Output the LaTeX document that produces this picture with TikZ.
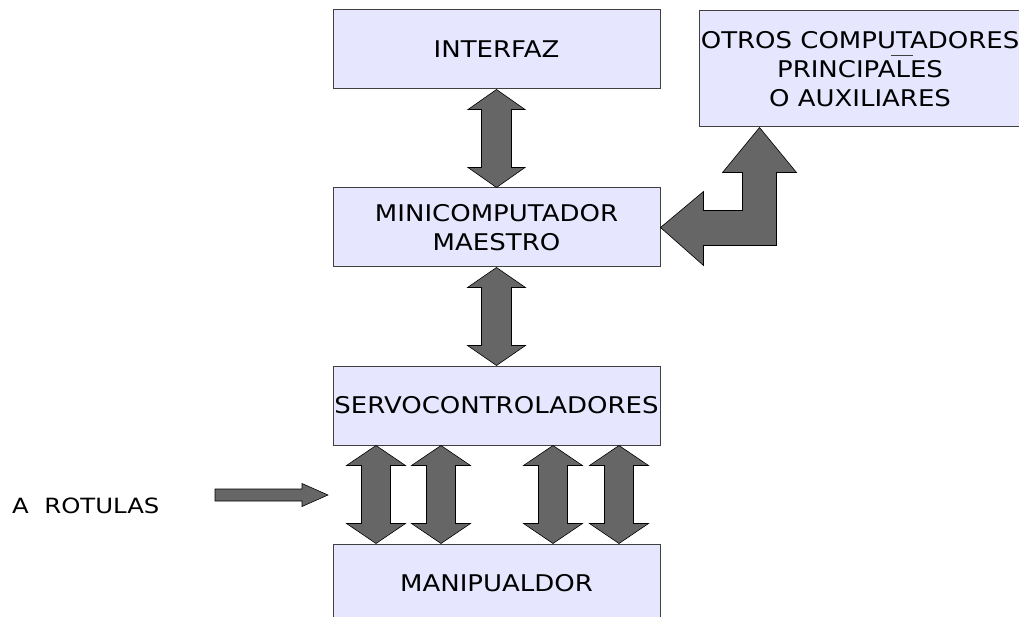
\documentclass[tikz,border=0pt]{standalone}
\usepackage{fontspec}
\setmainfont{DejaVu Sans}
\newfontfamily\boxfont{DejaVu Sans}[FakeStretch=1.13]
\newfontfamily\labelfont{DejaVu Sans}[FakeStretch=1.16]
\usetikzlibrary{calc}

\definecolor{boxfill}{HTML}{E6E6FF}
\definecolor{boxline}{HTML}{404040}
\definecolor{arrowfill}{HTML}{666666}

\tikzset{
  box/.style={draw=boxline, line width=1pt, fill=boxfill, inner sep=0pt,
    minimum width=327pt, minimum height=79pt, align=center,
    font=\boxfont\fontsize{23}{29}\selectfont},
  blockarrow/.style={draw=black, line width=0.6pt, fill=arrowfill, line join=miter},
  label/.style={inner sep=0pt, font=\labelfont\fontsize{21}{25}\selectfont}
}

% vertical double-headed block arrow between two anchors
% #1 upper end, #2 lower end, #3 head half width, #4 shaft half width
\newcommand\vdarrow[4]{%
  \path[blockarrow] let \p1=(#1), \p2=(#2) in
    (\x1,\y1) -- (\x1+#3pt,\y1-20pt) -- (\x1+#4pt,\y1-20pt)
    -- (\x1+#4pt,\y2+20pt) -- (\x1+#3pt,\y2+20pt) -- (\x2,\y2)
    -- (\x1-#3pt,\y2+20pt) -- (\x1-#4pt,\y2+20pt)
    -- (\x1-#4pt,\y1-20pt) -- (\x1-#3pt,\y1-20pt) -- cycle;}

\begin{document}
\begin{tikzpicture}[x=1pt,y=-1pt]
  \clip (0,0) rectangle (1019,617);
  \fill[white] (0,0) rectangle (1019,617);

  % blocks
  \node[box] (interfaz) at (496.5,49.5) {INTERFAZ};
  \node[box] (mini) at (496.5,227.5) {MINICOMPUTADOR\\MAESTRO};
  \node[box] (servo) at (496.5,405.5) {SERVOCONTROLADORES};
  \node[box] (manip) at (496.5,583.5) {MANIPUALDOR};
  \node[box, minimum width=322pt, minimum height=116pt] (otros) at (860,69)
    {OTROS COMPUTADORES\\PRINCIPALES\\O AUXILIARES};
  \draw[boxline, line width=0.8pt] (891,55) -- (913,55);

  % links between the main blocks
  \vdarrow{interfaz.south}{mini.north}{28.5}{15}
  \vdarrow{mini.south}{servo.north}{29}{15}

  % links from the servo controllers to the manipulator
  \foreach \dx [count=\i] in {-120.5,-55.5,56.5,122.5} {
    \coordinate (s\i) at ($(servo.south)+(\dx,0)$);
    \coordinate (m\i) at ($(manip.north)+(\dx,0)$);
    \vdarrow{s\i}{m\i}{29.5}{14.5}
  }

  % L-shaped link to the other computers
  \coordinate (up) at ($(otros.south west)+(61,0)$);
  \path[blockarrow] let \p1=(up), \p2=(mini.east) in
    (\x1,\y1) -- (\x1+37pt,\y1-45pt) -- (\x1+17pt,\y1-45pt)
    -- (\x1+17pt,\y2-18pt) -- (\x2+43pt,\y2-18pt) -- (\x2+43pt,\y2-38pt)
    -- (\x2,\y2) -- (\x2+43pt,\y2+36pt) -- (\x2+43pt,\y2+17pt)
    -- (\x1-17pt,\y2+17pt) -- (\x1-17pt,\y1-45pt) -- (\x1-37pt,\y1-45pt) -- cycle;

  % joints input
  \node[label, anchor=west] (rotulas) at (12,505.5) {A\ \ ROTULAS};
  \coordinate (rtail) at (215,495);
  \coordinate (rtip) at (328,495);
  \path[blockarrow] let \p1=(rtail), \p2=(rtip) in
    (\x1,\y1+6pt) -- (\x2-26pt,\y1+6pt) -- (\x2-26pt,\y1+11.5pt) -- (\x2,\y2)
    -- (\x2-26pt,\y1-11.5pt) -- (\x2-26pt,\y1-6pt) -- (\x1,\y1-6pt) -- cycle;
\end{tikzpicture}
\end{document}
